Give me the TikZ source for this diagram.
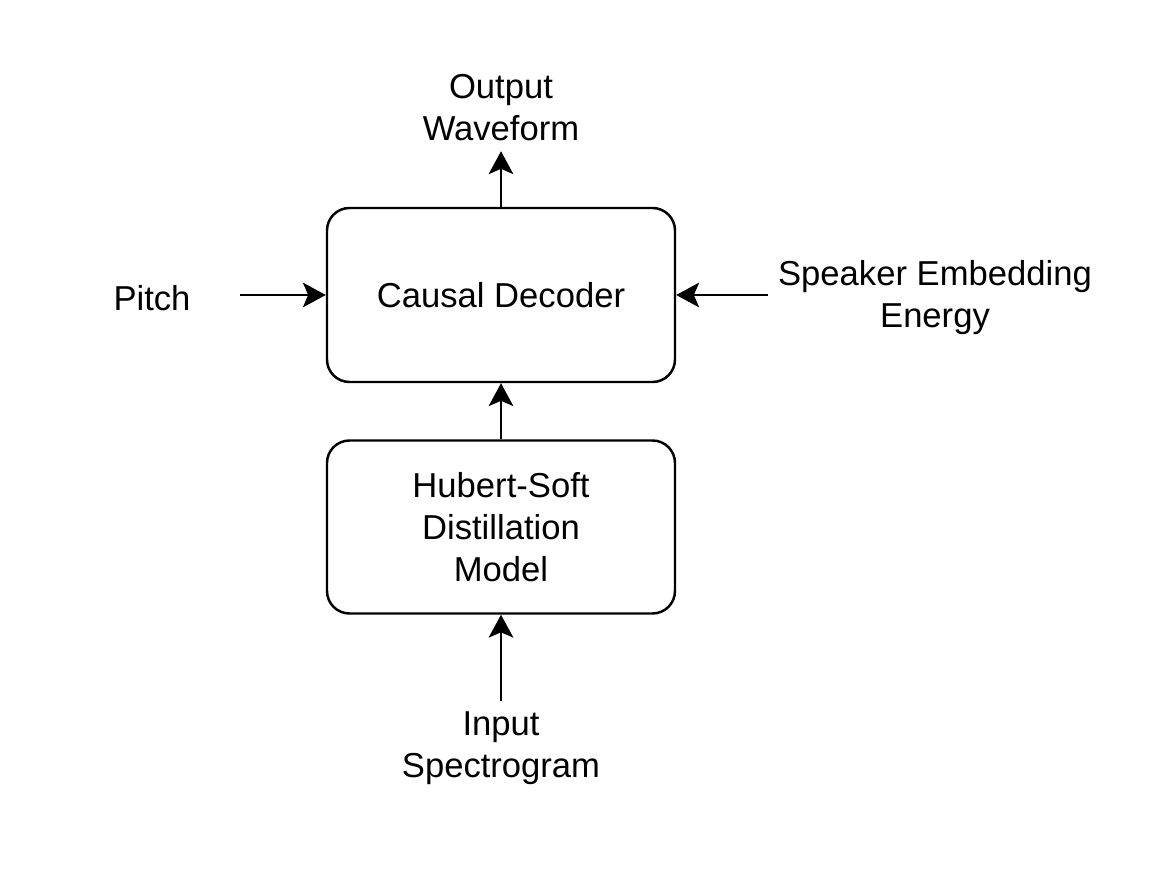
\documentclass[tikz,border=0pt]{standalone}
\usepackage{fontspec}
\setmainfont{Liberation Sans}
\usetikzlibrary{arrows.meta}

\begin{document}
\begin{tikzpicture}[
		font=\fontsize{19.7}{23.9}\selectfont,
		blk/.style={draw, line width=1.4pt, rounded corners=0.45cm, minimum width=6.96cm, align=center},
		lbl/.style={inner sep=0pt, outer sep=0.2cm, align=center},
		flow/.style={line width=1.4pt, -{Stealth[length=13pt,width=14pt,inset=3pt]}}]
		\useasboundingbox (0,0) rectangle (23.08,-17.56);
		\node[blk, minimum height=3.48cm] (dec) at (10.02,-5.9) {Causal Decoder};
		\node[blk, minimum height=3.46cm] (hub) at (10.02,-10.54) {Hubert-Soft\\Distillation\\Model};
		\node[lbl] (out) at (10.02,-2.16) {Output\\Waveform};
		\node[lbl] (inp) at (10.02,-14.96) {Input\\Spectrogram};
		\node[lbl, minimum width=3.12cm] (pitch) at (3.04,-5.96) {Pitch};
		\node[lbl] (spk) at (18.7,-5.96) {Speaker Embedding\\Energy};
		\path[flow] (dec.north) edge (out.south)
			(hub.north) edge (dec.south)
			(inp.north) edge (hub.south)
			(pitch.east |- dec.west) edge (dec.west)
			(spk.west |- dec.east) edge (dec.east);
	\end{tikzpicture}
\end{document}
